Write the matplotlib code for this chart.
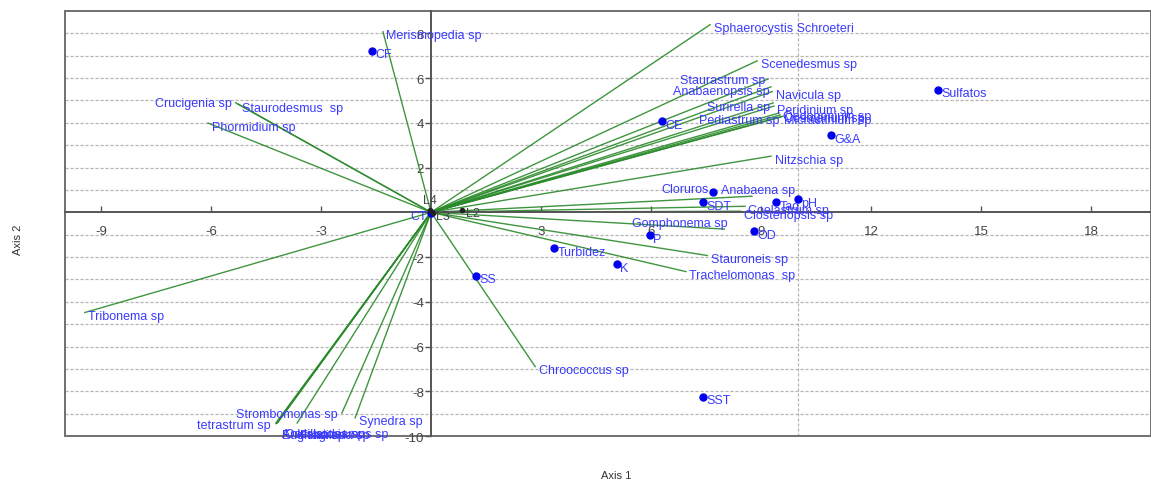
import matplotlib.pyplot as plt
from matplotlib.patches import Rectangle

plt.rcParams['font.family'] = ['Liberation Sans', 'DejaVu Sans']
plt.rcParams['axes.unicode_minus'] = False

# species scores (green vectors from the origin)
species = ['Merismopedia sp', 'Sphaerocystis Schroeteri', 'Scenedesmus sp', 'Staurastrum sp',
           'Anabaenopsis sp', 'Navicula sp', 'Surirella sp', 'Peridinium sp', 'Pediastrum sp',
           'Oedogonium sp', 'Cosmarium sp', 'Micractinium sp', 'Nitzschia sp', 'Anabaena sp',
           'Coelastrum sp', 'Closteriopsis sp', 'Gomphonema sp', 'Stauroneis sp',
           'Trachelomonas  sp', 'Chroococcus sp', 'Tribonema sp', 'Phormidium sp',
           'Staurodesmus  sp', 'Crucigenia sp', 'tetrastrum sp', 'Strombomonas sp', 'Synedra sp',
           'Euglena sp', 'Oscillatoria sp', 'Ankistrodesmus sp', 'Fragilaria sp']
sp_x = [-1.31, 7.61, 8.89, 9.19, 9.27, 9.30, 9.33, 9.35, 9.60, 9.49, 9.52, 9.54, 9.27, 8.75,
        8.56, 8.45, 8.00, 7.53, 6.95, 2.84, -9.44, -6.08, -5.26, -5.33, -4.23, -2.43, -2.07,
        -4.22, -4.20, -4.18, -3.65]
sp_y = [8.07, 8.39, 6.77, 5.96, 5.61, 5.40, 4.89, 4.75, 4.30, 4.44, 4.35, 4.26, 2.51, 0.72,
        0.27, 0.05, -0.75, -1.93, -2.65, -6.90, -4.48, 3.99, 4.84, 4.90, -9.42, -8.97, -9.19,
        -9.45, -9.42, -9.40, -9.42]

# environmental variables (blue points)
env = ['CF', 'CE', 'Sulfatos', 'G&A', 'Cloruros', 'SDT', 'Tag', 'pH', 'OD', 'P', 'Turbidez',
       'K', 'SS', 'SST', 'CT']
env_x = [-1.61, 6.30, 13.83, 10.91, 7.69, 7.42, 9.41, 10.0, 8.81, 5.97, 3.35, 5.07, 1.23, 7.42, 0.0]
env_y = [7.22, 4.08, 5.47, 3.45, 0.90, 0.45, 0.45, 0.58, -0.85, -1.03, -1.61, -2.33, -2.83, -8.25, -0.05]

# sampling sites
sites = ['L2', 'L3', 'L4']
site_x = [0.85, 0.05, -0.02]
site_y = [0.09, -0.05, 0.10]

# label placement tweaks: name -> (dx, dy, ha) in points
label_pos = {
    'Staurastrum sp': (-2, -0.7, 'right'), 'Anabaenopsis sp': (-1, -3, 'right'),
    'Surirella sp': (-2, -3, 'right'), 'Pediastrum sp': (-3, -3, 'right'),
    'Crucigenia sp': (-3, 0, 'right'), 'tetrastrum sp': (-4, -1.5, 'right'),
    'Strombomonas sp': (-3, -0.7, 'right'), 'Gomphonema sp': (2, 4.5, 'right'),
    'Cloruros': (-3, 2, 'right'), 'Anabaena sp': (-22, 4.5, 'left'),
    'Euglena sp': (4, -8, 'left'), 'Oscillatoria sp': (6, -8, 'left'),
    'Ankistrodesmus sp': (3, -8, 'left'), 'Fragilaria sp': (2, -8.5, 'left'),
    'CT': (-3, -1.5, 'right'), 'L4': (0, 7, 'center'),
}
text_col = '#3a3aff'

fig = plt.figure(figsize=(11.51, 4.81), dpi=100)
ax = fig.add_axes([65 / 1151, 44 / 481, 1086 / 1151, 425 / 481])
ax.set_xlim(-9.98, 19.63)
ax.set_ylim(-10, 9)

# grid
for gy in range(-9, 9):
    if gy != 0:
        ax.axhline(gy, color='#b4b4b4', lw=0.9, ls=(0, (2.5, 1.5)), zorder=0)
ax.axvline(10, color='#b4b4b4', lw=0.9, ls=(0, (2.5, 1.5)), zorder=0)

# axes through origin + outer frame
for s in ['top', 'right']:
    ax.spines[s].set_visible(False)
ax.spines['left'].set_position(('data', 0))
ax.spines['bottom'].set_position(('data', 0))
for s in ['left', 'bottom']:
    ax.spines[s].set_color('#555555')
    ax.spines[s].set_linewidth(1.4)
ax.add_patch(Rectangle((0, 0), 1, 1, transform=ax.transAxes, fill=False,
                       ec='#707070', lw=1.4, clip_on=False))
ax.set_xticks([-9, -6, -3, 3, 6, 9, 12, 15, 18])
ax.set_yticks([-10, -8, -6, -4, -2, 2, 4, 6, 8])
ax.tick_params(axis='x', direction='in', length=4, width=1, color='#555555',
               labelsize=9.5, labelcolor='#444444', pad=9)
ax.tick_params(axis='y', direction='out', length=4, width=1, color='#555555',
               labelsize=9.5, labelcolor='#444444', pad=1)

# species vectors
for name, x, y in zip(species, sp_x, sp_y):
    ax.plot([0, x], [0, y], color='#2a8a2a', lw=1.0, alpha=0.9, zorder=2)
    dx, dy, ha = label_pos.get(name, (2.5, -2.5, 'left'))
    ax.annotate(name, (x, y), xytext=(dx, dy), textcoords='offset points', ha=ha,
                va='center', fontsize=9, color=text_col, zorder=4, annotation_clip=False)

# environmental points
ax.plot(env_x, env_y, 'o', color='#0000ee', ms=5, zorder=3)
for name, x, y in zip(env, env_x, env_y):
    dx, dy, ha = label_pos.get(name, (2.5, -2.5, 'left'))
    ax.annotate(name, (x, y), xytext=(dx, dy), textcoords='offset points', ha=ha,
                va='center', fontsize=9, color=text_col, zorder=4)

# sites
ax.plot(site_x, site_y, 'o', color='#222222', ms=3, zorder=3)
for name, x, y in zip(sites, site_x, site_y):
    dx, dy, ha = label_pos.get(name, (2.5, -2, 'left'))
    ax.annotate(name, (x, y), xytext=(dx, dy), textcoords='offset points', ha=ha,
                va='center', fontsize=9, color='#444444', zorder=4)

fig.text(616 / 1151, 1 - 476 / 481, 'Axis 1', ha='center', va='center', fontsize=8, color='#333333')
fig.text(18 / 1151, 1 - 240 / 481, 'Axis 2', ha='center', va='center', rotation=90,
         fontsize=8, color='#333333')

fig.savefig('out.png', dpi=100)
